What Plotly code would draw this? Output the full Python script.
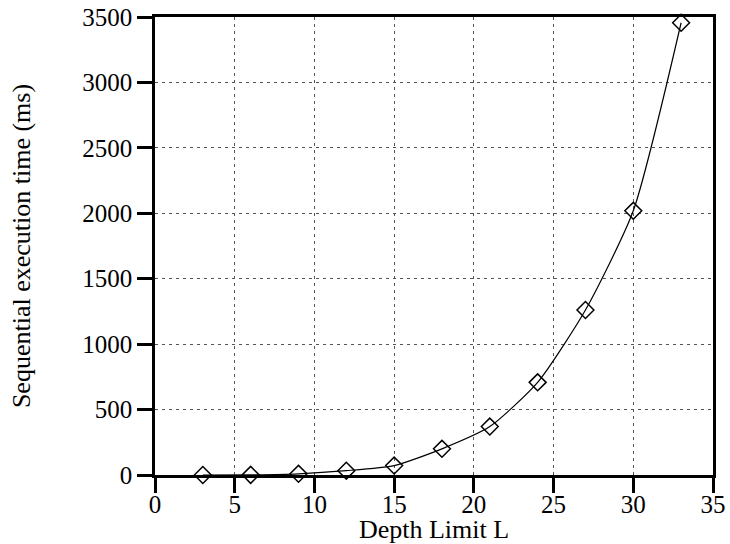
"""
Plot the sequential execution time against the depth limit L.
"""
import plotly.graph_objects as go

depth_limit = [3, 6, 9, 12, 15, 18, 21, 24, 27, 30, 33]
exec_time_ms = [0, 1, 9, 33, 72, 200, 370, 708, 1261, 2019, 3456]

x_ticks = [0, 5, 10, 15, 20, 25, 30, 35]
y_ticks = [0, 500, 1000, 1500, 2000, 2500, 3000, 3500]

FONT = 'Liberation Serif'


def axis_settings(title: str, ticks: list, standoff: int, label_shift: int) -> dict:
    return dict(
        title=dict(text=title, standoff=standoff, font=dict(size=26)),
        range=[ticks[0], ticks[-1]],
        tickmode='array',
        tickvals=ticks,
        ticks='outside',
        ticklen=15,
        tickwidth=2.5,
        tickcolor='black',
        ticklabelstandoff=label_shift,
        showline=True,
        linewidth=2.5,
        linecolor='black',
        mirror=True,
        showgrid=True,
        gridcolor='#555555',
        gridwidth=1,
        griddash='3px,4px',
        zeroline=False,
        automargin=False,
    )


def create_figure() -> go.Figure:
    fig = go.Figure()
    fig.add_trace(go.Scatter(x=depth_limit,
                             y=exec_time_ms,
                             mode='lines+markers',
                             line=dict(color='black', width=1.2, shape='spline', smoothing=0.6),
                             marker=dict(symbol='diamond-open', size=13, color='black',
                                         line=dict(width=1.5, color='black')),
                             cliponaxis=False,
                             showlegend=False))
    fig.update_layout(
        width=730,
        height=544,
        margin=dict(l=155, r=17, t=17, b=69),
        paper_bgcolor='white',
        plot_bgcolor='white',
        font=dict(family=FONT, size=25, color='black'),
        xaxis=axis_settings('Depth Limit L', x_ticks, 4, -10),
        yaxis=axis_settings('Sequential execution time (ms)', y_ticks, 45, 0),
    )
    return fig


def main():
    fig = create_figure()
    # drop the page's default body margin so the figure sits at the top-left corner
    fig.write_html('out.html', config={'displayModeBar': False},
                   post_script="document.body.style.margin = '0px';")


if __name__ == '__main__':
    main()
